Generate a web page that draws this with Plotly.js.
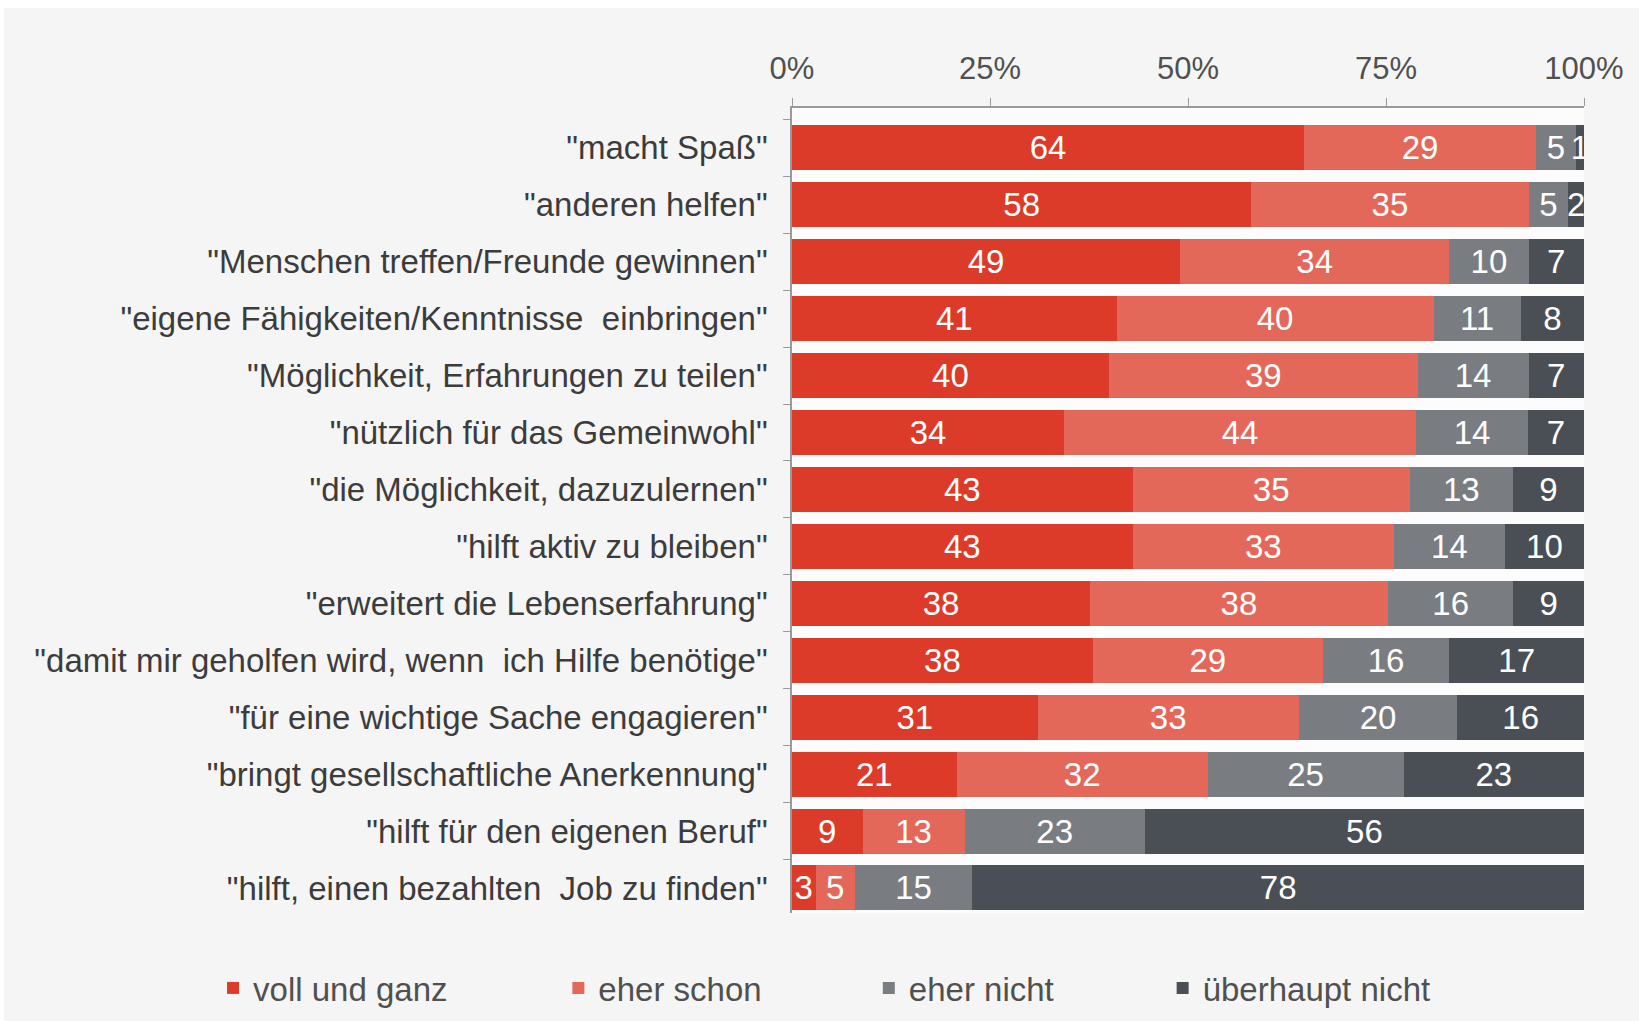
<!DOCTYPE html>
<html>
<head>
<meta charset="utf-8">
<script src="https://cdn.plot.ly/plotly-3.0.1.min.js"></script>
<style>
  html, body { margin: 0; padding: 0; background: #ffffff; }
  #chart { position: absolute; left: 4px; top: 8px; width: 1635px; height: 1013px; }
</style>
</head>
<body>
<div id="chart"></div>
<script>
const categories = [
  '"macht Spaß"',
  '"anderen helfen"',
  '"Menschen treffen/Freunde gewinnen"',
  '"eigene Fähigkeiten/Kenntnisse  einbringen"',
  '"Möglichkeit, Erfahrungen zu teilen"',
  '"nützlich für das Gemeinwohl"',
  '"die Möglichkeit, dazuzulernen"',
  '"hilft aktiv zu bleiben"',
  '"erweitert die Lebenserfahrung"',
  '"damit mir geholfen wird, wenn  ich Hilfe benötige"',
  '"für eine wichtige Sache engagieren"',
  '"bringt gesellschaftliche Anerkennung"',
  '"hilft für den eigenen Beruf"',
  '"hilft, einen bezahlten  Job zu finden"'
];
const vollUndGanz    = [64, 58, 49, 41, 40, 34, 43, 43, 38, 38, 31, 21, 9, 3];
const eherSchon      = [29, 35, 34, 40, 39, 44, 35, 33, 38, 29, 33, 32, 13, 5];
const eherNicht      = [5, 5, 10, 11, 14, 14, 13, 14, 16, 16, 20, 25, 23, 15];
const ueberhauptNicht = [1, 2, 7, 8, 7, 7, 9, 10, 9, 17, 16, 23, 56, 78];
const seriesNames = ['voll und ganz', 'eher schon', 'eher nicht', 'überhaupt nicht'];
const tickVals = [0, 25, 50, 75, 100];
const tickText = ['0%', '25%', '50%', '75%', '100%'];

const colors = ['#db3b28', '#e4685a', '#797d82', '#4a4f55'];
const FONT = 'Liberation Sans, Arial, sans-serif';
const legendIds = ['legend', 'legend2', 'legend3', 'legend4'];
const legendX = [-0.731, -0.295, 0.097, 0.468];

const seriesValues = [vollUndGanz, eherSchon, eherNicht, ueberhauptNicht];
const traces = seriesValues.map((vals, i) => ({
  type: 'bar',
  orientation: 'h',
  name: seriesNames[i],
  legend: legendIds[i],
  y: categories,
  x: vals,
  text: vals.map(String),
  texttemplate: '%{text}',
  textposition: 'inside',
  insidetextanchor: 'middle',
  constraintext: 'none',
  textfont: { family: FONT, size: 33, color: '#ffffff' },
  marker: { color: colors[i], line: { width: 0 } },
  hoverinfo: 'name+text'
}));

const layout = {
  barmode: 'stack',
  barnorm: 'percent',
  bargap: 0.21,
  paper_bgcolor: '#f5f5f5',
  plot_bgcolor: '#fcfcfc',
  margin: { l: 788, r: 55, t: 100, b: 108, autoexpand: false },
  font: { family: FONT, color: '#404040' },
  showlegend: true,
  xaxis: {
    side: 'top',
    range: [0, 100],
    tickvals: tickVals,
    ticktext: tickText,
    tickfont: { family: FONT, size: 31, color: '#505050' },
    showgrid: false,
    zeroline: false,
    showline: true,
    linecolor: '#9a9a9a',
    linewidth: 1.5,
    ticks: 'outside',
    ticklen: 8,
    tickcolor: '#9a9a9a',
    ticklabelstandoff: 7,
    fixedrange: true
  },
  yaxis: {
    type: 'category',
    range: [13.44, -0.70],
    tickfont: { family: FONT, size: 33, color: '#3c3c3c' },
    showgrid: false,
    zeroline: false,
    showline: true,
    linecolor: '#9a9a9a',
    linewidth: 1.5,
    ticks: 'outside',
    tickson: 'boundaries',
    ticklen: 7,
    tickcolor: '#9a9a9a',
    ticklabelstandoff: 16,
    fixedrange: true
  }
};

legendIds.forEach((id, i) => {
  layout[id] = {
    orientation: 'h',
    x: legendX[i],
    xanchor: 'left',
    yref: 'container',
    y: 0.0326,
    yanchor: 'middle',
    font: { family: FONT, size: 33, color: '#505050' },
    itemwidth: 30,
    bgcolor: 'rgba(0,0,0,0)'
  };
});

Plotly.newPlot('chart', traces, layout, { displayModeBar: false, responsive: false });
</script>
</body>
</html>
